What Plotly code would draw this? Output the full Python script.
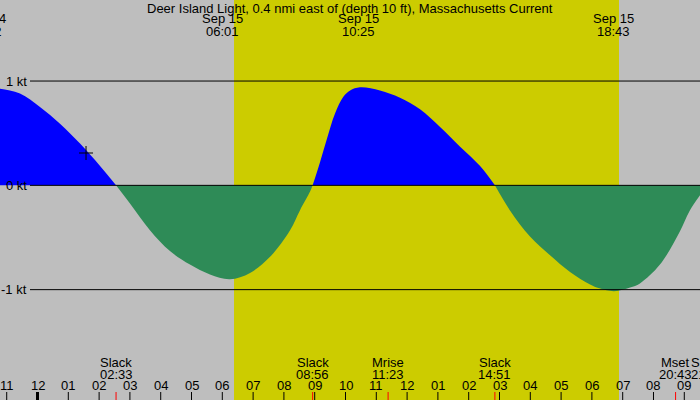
import plotly.graph_objects as go

# current speed (kt) against hours from midnight Sep 15
hours = [-1.7, -1.22, -0.57, 0.08, 0.73, 1.38, 2.03, 2.55,
         2.99, 3.65, 4.30, 4.95, 5.60, 6.25, 6.90, 7.55, 8.20, 8.52, 8.85, 8.933,
         9.17, 9.39, 9.66, 9.93, 10.15, 10.47, 11.12, 11.77, 12.42, 13.07, 13.72, 14.37, 14.85,
         15.34, 15.99, 16.64, 17.29, 17.94, 18.27, 18.72, 19.24, 19.56, 20.21, 20.86, 21.18, 21.75]
speed = [0.94, 0.927, 0.88, 0.75, 0.59, 0.40, 0.185, 0.0,
         -0.17, -0.43, -0.63, -0.76, -0.855, -0.90, -0.84, -0.685, -0.43, -0.24, -0.06, 0.0,
         0.22, 0.44, 0.69, 0.85, 0.91, 0.94, 0.91, 0.84, 0.73, 0.56, 0.37, 0.185, 0.0,
         -0.24, -0.49, -0.67, -0.83, -0.95, -0.99, -1.015, -0.98, -0.94, -0.76, -0.44, -0.24, 0.0]

# max/min current labels at top
peak_hours = [-1.7, 6.017, 10.417, 18.717]
peak_dates = ["Sep 14", "Sep 15", "Sep 15", "Sep 15"]
peak_times = ["22:22", "06:01", "10:25", "18:43"]

# events at bottom
event_hours = [2.55, 8.933, 11.383, 14.85, 20.717, 21.75]
event_names = ["Slack", "Slack", "Mrise", "Slack", "Mset", "Slack"]
event_times = ["02:33", "08:56", "11:23", "14:51", "20:43", "21:45"]

hour_ticks = list(range(-1, 22))
hour_labels = ["11", "12", "01", "02", "03", "04", "05", "06", "07", "08", "09", "10",
               "11", "12", "01", "02", "03", "04", "05", "06", "07", "08", "09"]

sunrise, sunset = 6.38, 18.88
now_hour, now_speed = 1.575, 0.31

kt_levels = [1, 0, -1]
kt_labels = ["1 kt", "0 kt", "-1 kt"]

XMIN, XMAX = -1.218, 21.51
YMIN, YMAX = -2.058, 1.777
FONT = "Liberation Sans"


def frac(h):
    return (h - XMIN) / (XMAX - XMIN)


fig = go.Figure()

# split the curve into lobes at the slack (zero) points
start = 0
for i in range(1, len(hours)):
    if speed[i] == 0.0:
        seg_x = hours[start:i + 1]
        seg_y = speed[start:i + 1]
        pos = sum(seg_y) > 0
        fig.add_trace(go.Scatter(
            x=seg_x, y=seg_y, mode="lines", line=dict(width=0, shape="spline", smoothing=1),
            fill="tozeroy", fillcolor="#0000ff" if pos else "#2e8b57",
            hoverinfo="skip", showlegend=False))
        start = i

fig.add_trace(go.Scatter(
    x=[now_hour], y=[now_speed], mode="markers",
    marker=dict(symbol="cross-thin", size=10, line=dict(color="black", width=1)),
    showlegend=False))

shapes = [dict(type="rect", xref="x", yref="paper", x0=sunrise, x1=sunset, y0=0, y1=1,
               fillcolor="#cccc00", line=dict(width=0), layer="below")]
for lv in kt_levels:
    shapes.append(dict(type="line", xref="paper", yref="y", x0=30 / 700, x1=1, y0=lv, y1=lv,
                       line=dict(color="black", width=1), layer="above"))
for h in hour_ticks:
    shapes.append(dict(type="line", xref="x", yref="paper", x0=h, x1=h, y0=0, y1=0.02,
                       line=dict(color="black", width=3 if h == 0 else 1), layer="above"))
for h in event_hours:
    shapes.append(dict(type="line", xref="x", yref="paper", x0=h, x1=h, y0=0, y1=0.02,
                       line=dict(color="red", width=1), layer="above"))

annotations = [dict(text="Deer Island Light, 0.4 nmi east of (depth 10 ft), Massachusetts Current",
                    xref="paper", yref="paper", x=0.5, y=1 - 8 / 400, showarrow=False,
                    xanchor="center", yanchor="middle")]
for h, d, t in zip(peak_hours, peak_dates, peak_times):
    annotations.append(dict(text=d, xref="paper", yref="paper", x=frac(h), y=1 - 19 / 400,
                            showarrow=False, xanchor="center", yanchor="middle"))
    annotations.append(dict(text=t, xref="paper", yref="paper", x=frac(h), y=1 - 31 / 400,
                            showarrow=False, xanchor="center", yanchor="middle"))
for h, n, t in zip(event_hours, event_names, event_times):
    annotations.append(dict(text=n, xref="paper", yref="paper", x=frac(h), y=1 - 362 / 400,
                            showarrow=False, xanchor="center", yanchor="middle"))
    annotations.append(dict(text=t, xref="paper", yref="paper", x=frac(h), y=1 - 374 / 400,
                            showarrow=False, xanchor="center", yanchor="middle"))
for h, lab in zip(hour_ticks, hour_labels):
    annotations.append(dict(text=lab, xref="x", yref="paper", x=h, y=1 - 385 / 400,
                            showarrow=False, xanchor="center", yanchor="middle"))
for lv, lab in zip(kt_levels, kt_labels):
    annotations.append(dict(text=lab, xref="paper", yref="y", x=29 / 700, y=lv,
                            showarrow=False, xanchor="right", yanchor="middle"))

fig.update_layout(
    width=700, height=400,
    margin=dict(l=0, r=0, t=0, b=0),
    paper_bgcolor="#bebebe", plot_bgcolor="#bebebe",
    font=dict(family=FONT, size=13, color="black"),
    xaxis=dict(range=[XMIN, XMAX], visible=False, fixedrange=True),
    yaxis=dict(range=[YMIN, YMAX], visible=False, fixedrange=True),
    shapes=shapes, annotations=annotations,
    showlegend=False,
)

fig.write_html("out.html", config={"displayModeBar": False},
               post_script="document.body.style.margin='0';document.body.style.overflow='hidden';")
